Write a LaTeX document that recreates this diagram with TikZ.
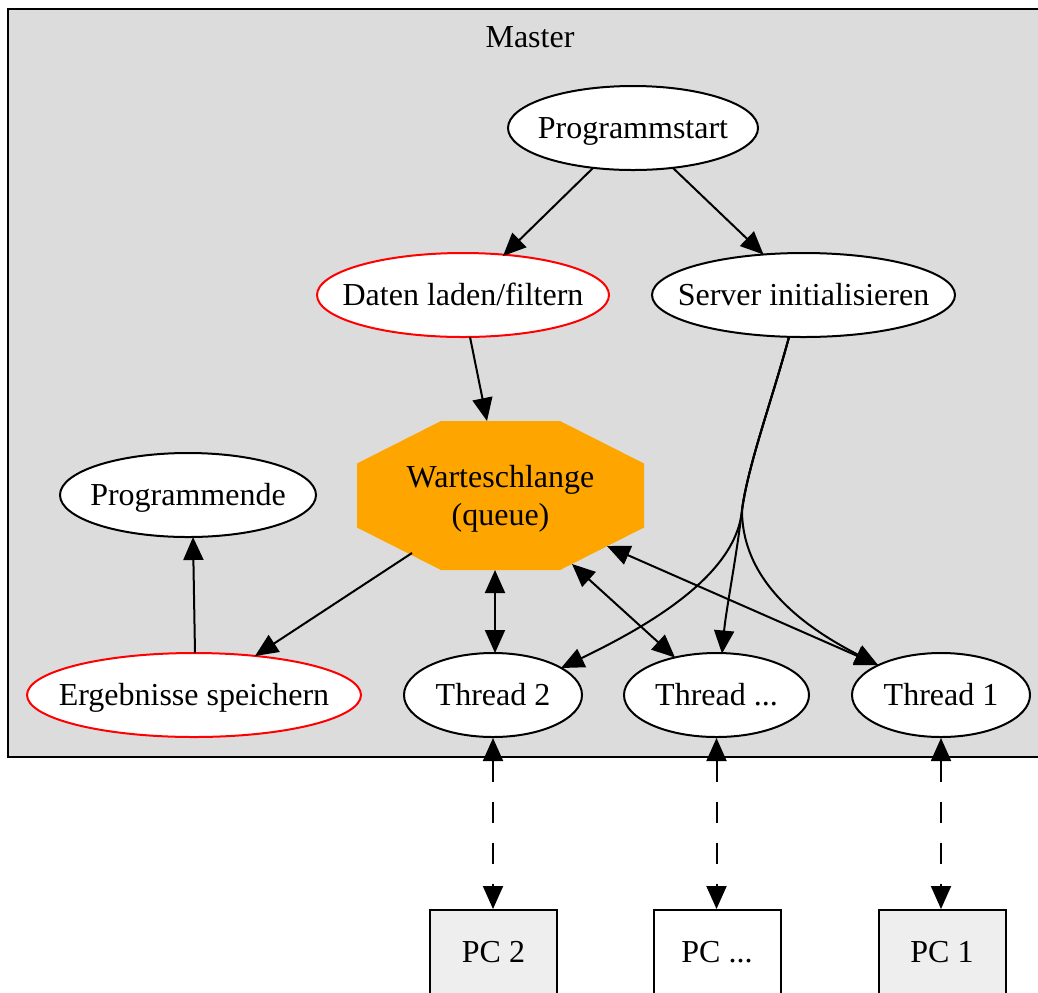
\documentclass[tikz,border=0pt]{standalone}
\usepackage{fontspec}
\setmainfont{Liberation Serif}
\usetikzlibrary{shapes.geometric,arrows.meta,calc}

\definecolor{clusterfill}{HTML}{DCDCDC}
\definecolor{pcfill}{HTML}{EEEEEE}
\definecolor{queuefill}{HTML}{FFA500}

% label of zero width, so that an ellipse keeps its given size
\newcommand\flatlabel[1]{\makebox[0pt]{#1}}

\tikzset{
  every node/.style={font=\fontsize{16}{19}\selectfont},
  ell/.style={ellipse, draw, line width=1pt, fill=white, inner sep=0pt,
    minimum height=42pt, text height=11pt, text depth=1pt},
  redell/.style={ell, draw=red},
  pcbox/.style={rectangle, draw, line width=1pt, inner sep=0pt,
    minimum width=63.5pt, minimum height=42pt, text height=11pt, text depth=1pt},
  tip/.tip={Triangle[length=11.5pt,width=10pt]},
  link/.style={line width=1pt, -tip},
  duplex/.style={line width=1pt, tip-tip},
  remote/.style={duplex, dash pattern=on 10.5pt off 10pt},
}

\begin{document}
\begin{tikzpicture}[x=0.5pt, y=-0.5pt]
  \useasboundingbox (0,0) rectangle (1038,992);
  \clip (0,0) rectangle (1038,992);

  % cluster "Master"
  \filldraw[fill=clusterfill, line width=1pt] (8,9) rectangle (1060,757);
  \node (master) at (530,37) {Master};

  % queue octagon
  \coordinate (qc) at (500.5,495.5);
  \fill[queuefill] ($(qc)+(-59.5,-74.5)$) -- ($(qc)+(59.5,-74.5)$)
    -- ($(qc)+(143.5,-32)$) -- ($(qc)+(143.5,32)$)
    -- ($(qc)+(59.5,74.5)$) -- ($(qc)+(-59.5,74.5)$)
    -- ($(qc)+(-143.5,32)$) -- ($(qc)+(-143.5,-32)$) -- cycle;
  \node[align=center, inner sep=0pt] (q) at ($(qc)+(0,3)$) {Warteschlange\\(queue)};

  % ellipse nodes
  \node[ell, minimum width=125pt] (ps) at (633,128) {\flatlabel{Programmstart}};
  \node[redell, minimum width=146pt] (dl) at (463,295) {\flatlabel{Daten laden/filtern}};
  \node[ell, minimum width=151.5pt] (sv) at (803.5,295) {\flatlabel{Server initialisieren}};
  \node[ell, minimum width=128pt] (pe) at (188,495) {\flatlabel{Programmende}};
  \node[redell, minimum width=167pt] (er) at (194,695) {\flatlabel{Ergebnisse speichern}};
  \node[ell, minimum width=89pt] (t2) at (493,695) {\flatlabel{Thread 2}};
  \node[ell, minimum width=92.5pt] (t3) at (716.5,695) {\flatlabel{Thread ...}};
  \node[ell, minimum width=89pt] (t1) at (941,695) {\flatlabel{Thread 1}};

  % remote machines
  \node[pcbox, fill=pcfill] (pc2) at (493.5,952) {PC 2};
  \node[pcbox, fill=white] (pc3) at (717,952) {PC ...};
  \node[pcbox, fill=pcfill] (pc1) at (942,952) {PC 1};

  % control flow
  \draw[link] ($(ps)+(-40,40)$) -- ($(dl)+(40,-39)$);
  \draw[link] ($(ps)+(40,40)$) -- ($(sv)+(-40,-40.5)$);
  \draw[link] ($(dl)+(7,42)$) -- ($(qc)+(-13.5,-74.5)$);
  \draw[link] ($(qc)+(-88.5,57.5)$) -- ($(er)+(61,-39)$);
  \draw[link] ($(er)+(1,-42)$) -- ($(pe)+(5,42)$);

  % server spawns the worker threads
  \coordinate (fork) at (742,510);
  \draw[link] ($(sv)+(-14.5,42)$) .. controls (772,400) and (748,465) .. (fork)
    .. controls (736,575) and (650,625) .. ($(t2)+(68,-27)$);
  \draw[link] ($(sv)+(-14.5,42)$) .. controls (772,400) and (748,465) .. (fork)
    .. controls (736,560) and (726,610) .. ($(t3)+(5.5,-41.5)$);
  \draw[link] ($(sv)+(-14.5,42)$) .. controls (772,400) and (748,465) .. (fork)
    .. controls (742,585) and (810,630) .. ($(t1)+(-63,-30)$);

  % threads exchange jobs with the queue
  \draw[duplex] ($(qc)+(-5.5,74.5)$) -- ($(t2)+(2,-42)$);
  \draw[duplex] ($(qc)+(71.5,68.5)$) -- ($(t3)+(-41.5,-37.5)$);
  \draw[duplex] ($(qc)+(106.5,50.5)$) -- ($(t1)+(-63,-30)$);

  % network links to the PCs
  \draw[remote] (t2.south) -- (t2.south |- pc2.north);
  \draw[remote] (t3.south) -- (t3.south |- pc3.north);
  \draw[remote] (t1.south) -- (t1.south |- pc1.north);
\end{tikzpicture}
\end{document}
